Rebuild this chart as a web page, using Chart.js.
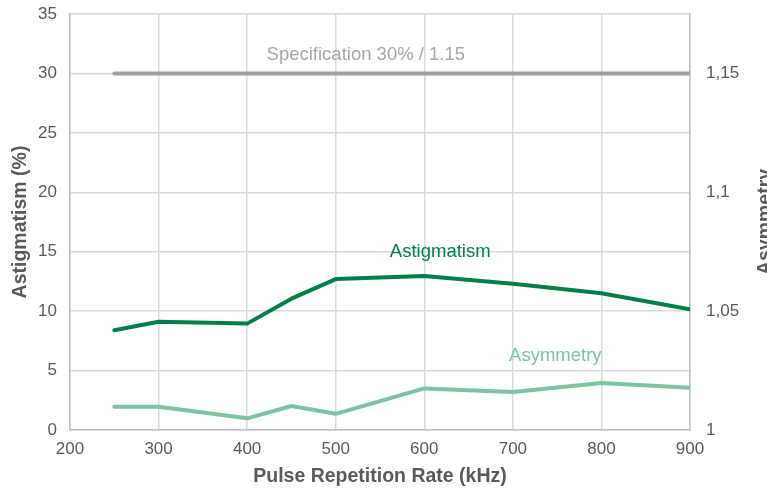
<!DOCTYPE html>
<html>
<head>
<meta charset="utf-8">
<script src="https://cdn.jsdelivr.net/npm/chart.js@4"></script>
<style>
html,body{margin:0;padding:0;background:#fff;}
#wrap{width:767px;height:488px;position:relative;}
</style>
</head>
<body>
<div id="wrap"><canvas id="c" width="767" height="488"></canvas></div>
<script>
const rateKHz = [250, 300, 400, 450, 500, 600, 700, 800, 900];
const astigmatism = [8.4, 9.1, 8.95, 11.05, 12.7, 12.95, 12.3, 11.5, 10.15];
const asymmetry = [1.0098, 1.0098, 1.0049, 1.0101, 1.0068, 1.0175, 1.016, 1.0198, 1.0178];
const specX = [250, 900];
const specY = [30, 30];
const xTicks = [200, 300, 400, 500, 600, 700, 800, 900];
const leftTicks = [0, 5, 10, 15, 20, 25, 30, 35];
const rightTicks = [1, 1.05, 1.1, 1.15];
const labels = {
  spec: 'Specification 30% / 1.15',
  astig: 'Astigmatism',
  asym: 'Asymmetry',
  xTitle: 'Pulse Repetition Rate (kHz)',
  yTitle: 'Astigmatism (%)',
  y1Title: 'Asymmetry'
};

const FONT = "'Liberation Sans', Arial, sans-serif";
const toPts = (xs, ys) => xs.map((x, i) => ({x: x, y: ys[i]}));

const annot = {
  id: 'annot',
  afterDatasetsDraw(chart) {
    const {ctx, scales} = chart;
    const x = scales.x, y = scales.y;
    ctx.save();
    ctx.font = '18.5px ' + FONT;
    ctx.textAlign = 'center';
    ctx.textBaseline = 'middle';
    ctx.fillStyle = '#A6A6A6';
    ctx.fillText(labels.spec, x.getPixelForValue(534), y.getPixelForValue(31.55));
    ctx.fillStyle = '#008048';
    ctx.fillText(labels.astig, x.getPixelForValue(618), y.getPixelForValue(15));
    ctx.fillStyle = '#7DC3A3';
    ctx.fillText(labels.asym, x.getPixelForValue(748), y.getPixelForValue(6.25));
    // right axis title (clipped at canvas edge like reference)
    ctx.translate(771, (chart.chartArea.top + chart.chartArea.bottom) / 2);
    ctx.rotate(-Math.PI / 2);
    ctx.font = 'bold 19.5px ' + FONT;
    ctx.fillStyle = '#595959';
    ctx.textBaseline = 'alphabetic';
    ctx.fillText(labels.y1Title, 0, 0);
    ctx.restore();
  }
};

const fitV = w => s => { s.width = w; s.paddingTop = 0; s.paddingBottom = 0; };

new Chart(document.getElementById('c'), {
  type: 'line',
  data: {
    datasets: [
      {
        label: 'Specification',
        data: toPts(specX, specY),
        yAxisID: 'y',
        borderColor: '#A0A0A0',
        borderWidth: 4,
        borderCapStyle: 'round',
        pointRadius: 0,
        tension: 0
      },
      {
        label: 'Astigmatism',
        data: toPts(rateKHz, astigmatism),
        yAxisID: 'y',
        borderColor: '#008048',
        borderWidth: 4,
        borderCapStyle: 'round',
        borderJoinStyle: 'round',
        pointRadius: 0,
        tension: 0
      },
      {
        label: 'Asymmetry',
        data: toPts(rateKHz, asymmetry),
        yAxisID: 'y1',
        borderColor: '#7DC3A3',
        borderWidth: 4,
        borderCapStyle: 'round',
        borderJoinStyle: 'round',
        pointRadius: 0,
        tension: 0
      }
    ]
  },
  options: {
    responsive: false,
    animation: false,
    devicePixelRatio: 1,
    layout: {padding: {top: 14, left: 0, right: 0, bottom: 0}},
    plugins: {legend: {display: false}, tooltip: {enabled: false}},
    scales: {
      x: {
        type: 'linear',
        min: 200, max: 900,
        afterBuildTicks: s => { s.ticks = xTicks.map(v => ({value: v})); },
        afterFit: s => { s.height = 58; s.paddingLeft = 0; s.paddingRight = 0; },
        grid: {color: '#D9D9D9', lineWidth: 1.5, drawTicks: false},
        border: {color: '#BFBFBF', width: 1.5},
        ticks: {color: '#595959', font: {family: FONT, size: 17}, padding: 9, maxRotation: 0},
        title: {display: true, text: labels.xTitle, color: '#595959', font: {family: FONT, size: 19.5, weight: 'bold'}, padding: {top: 0, bottom: 0}}
      },
      y: {
        position: 'left',
        min: 0, max: 35,
        afterBuildTicks: s => { s.ticks = leftTicks.map(v => ({value: v})); },
        afterFit: fitV(70),
        grid: {color: '#D9D9D9', lineWidth: 1.5, drawTicks: false},
        border: {color: '#BFBFBF', width: 1.5},
        ticks: {color: '#595959', font: {family: FONT, size: 17}, padding: 13},
        title: {display: true, text: labels.yTitle, color: '#595959', font: {family: FONT, size: 19.5, weight: 'bold'}, padding: {top: 9, bottom: 0}}
      },
      y1: {
        position: 'right',
        min: 1, max: 1.175,
        afterBuildTicks: s => { s.ticks = rightTicks.map(v => ({value: v})); },
        afterFit: fitV(77),
        grid: {display: false, drawTicks: false},
        border: {color: '#BFBFBF', width: 1.5},
        ticks: {color: '#595959', font: {family: FONT, size: 17}, padding: 16,
          callback: v => String(Number(v.toFixed(3))).replace('.', ',')}
      }
    }
  },
  plugins: [annot]
});
</script>
</body>
</html>
